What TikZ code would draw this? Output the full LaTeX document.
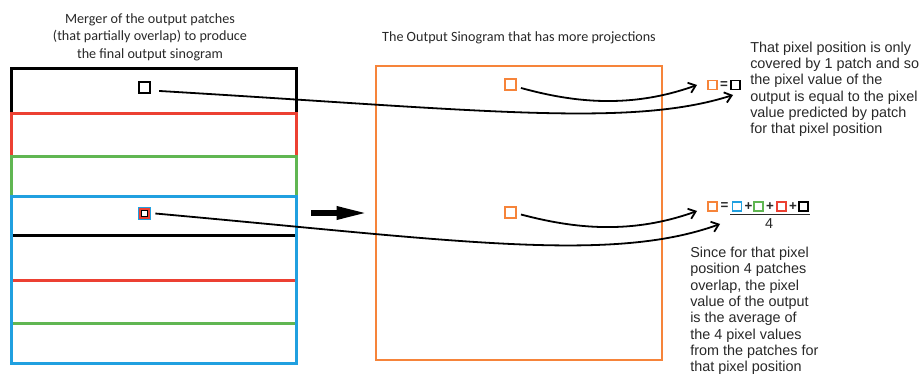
\documentclass[tikz,border=0pt]{standalone}
\usepackage{fontspec}
\setmainfont{Carlito}
\newfontfamily\arialfont{Liberation Sans}
\usetikzlibrary{arrows.meta}

\definecolor{patchred}{RGB}{236,64,50}
\definecolor{patchgreen}{RGB}{96,182,82}
\definecolor{patchblue}{RGB}{32,160,224}
\definecolor{outorange}{RGB}{246,132,58}
\definecolor{inkgray}{RGB}{40,40,40}

\tikzset{
  patchbox/.style={line width=2.2pt, minimum width=213.75pt, minimum height=125.6pt, inner sep=0pt},
  pix/.style={draw, inner sep=0pt, minimum size=8.25pt, line width=1.5pt},
  eqpix/.style={draw, inner sep=0pt, minimum size=6.6pt, line width=1.2pt},
  opsign/.style={font=\arialfont\bfseries\fontsize{10}{11}\selectfont, inner sep=0pt, text=inkgray},
  conn/.style={line width=1.35pt, -{Straight Barb[length=5pt,width=8pt]}},
  fatarrow/.style={line width=4.5pt, -{Triangle[length=24pt,width=9pt]}},
  title/.style={font=\fontsize{10.6}{13.1}\selectfont, align=center, inner sep=0pt, text=inkgray},
  note/.style={font=\arialfont\fontsize{10.8}{12.2}\selectfont, align=left, inner sep=0pt, text=inkgray}
}

\begin{document}
\begin{tikzpicture}[x=0.75pt, y=-0.75pt]
  \useasboundingbox (0,0) rectangle (919,374);

  % Titles
  \node[title, anchor=north] (mergetitle) at (150,13) {Merger of the output patches\\(that partially overlap) to produce\\the final output sinogram};
  \node[title, anchor=north] (outtitle) at (519,31) {The Output Sinogram that has more projections};

  % Overlapping patches
  \foreach \col/\top [count=\i] in {black/67, patchred/112, patchgreen/155, patchblue/195}
    \node[patchbox, draw=\col, anchor=north west] (patch\i) at (10,\top) {};

  \node[pix, draw=black] (pixA) at (144,87.5) {};
  \node[pix, draw=patchblue, line width=1.2pt, minimum size=9pt] (pixB) at (144.5,213.5) {};
  \node[draw=patchred, inner sep=0pt, minimum size=6.6pt, line width=1.2pt] at (pixB) {};
  \node[draw=black, inner sep=0pt, minimum size=4.6pt, line width=0.8pt] at (pixB) {};

  % Output sinogram
  \node[patchbox, draw=outorange, minimum width=214.5pt, minimum height=220.5pt] (outbox) at (519,213) {};
  \node[pix, draw=outorange, line width=1.4pt] (outA) at (510.5,84.5) {};
  \node[pix, draw=outorange, line width=1.4pt] (outB) at (510.5,212.5) {};

  \draw[fatarrow, shorten <=10pt, shorten >=4.5pt] (patch4.east |- outbox.west) -- (outbox.west);

  % Equations
  \node[eqpix, draw=outorange] (eqA) at (712.5,85) {};
  \node[opsign] (eqAsign) at (724,85) {=};
  \node[eqpix, draw=black] (eqAblk) at (735.5,85) {};

  \node[eqpix, draw=outorange] (eqB) at (712.5,206.5) {};
  \node[opsign] at (724.5,206.5) {=};
  \node[eqpix, draw=patchblue] (eqBblue) at (737,206.5) {};
  \node[opsign] at (748.5,206.5) {+};
  \node[eqpix, draw=patchgreen] (eqBgreen) at (758.5,206.5) {};
  \node[opsign] at (770,206.5) {+};
  \node[eqpix, draw=patchred] (eqBred) at (781.5,206.5) {};
  \node[opsign] at (793,206.5) {+};
  \node[eqpix, draw=black] (eqBblk) at (803.5,206.5) {};
  \draw[inkgray, line width=1.3pt] (730,214.5) -- (810,214.5);
  \node[opsign, font=\arialfont\fontsize{10.8}{12}\selectfont] (four) at (769,224) {4};

  % Connectors
  \coordinate (tipA1) at (697,85);
  \coordinate (tipA2) at (733,95);
  \coordinate (tipB1) at (697,211);
  \coordinate (tipB2) at (720,224);
  \draw[conn] ([shift={(3pt,-2.6pt)}]outA.east) .. controls (565,100) and (625,111) .. (tipA1);
  \draw[conn] ([shift={(3pt,-1.5pt)}]outB.east) .. controls (565,226) and (625,237) .. (tipB1);
  \draw[conn] ([shift={(6.5pt,-2.6pt)}]pixA.east) .. controls (480,110) and (630,128) .. (tipA2);
  \draw[conn] ([shift={(3pt,0pt)}]pixB.east) .. controls (450,240) and (610,264) .. (tipB2);

  % Notes
  \node[note, anchor=north west] (noteA) at (750,41.5) {That pixel position is only\\covered by 1 patch and so\\the pixel value of the\\output is equal to the pixel\\value predicted by patch\\for that pixel position};
  \node[note, anchor=north west] (noteB) at (690,247) {Since for that pixel\\position 4 patches\\overlap, the pixel\\value of the output\\is the average of\\the 4 pixel values\\from the patches for\\that pixel position};
\end{tikzpicture}
\end{document}
